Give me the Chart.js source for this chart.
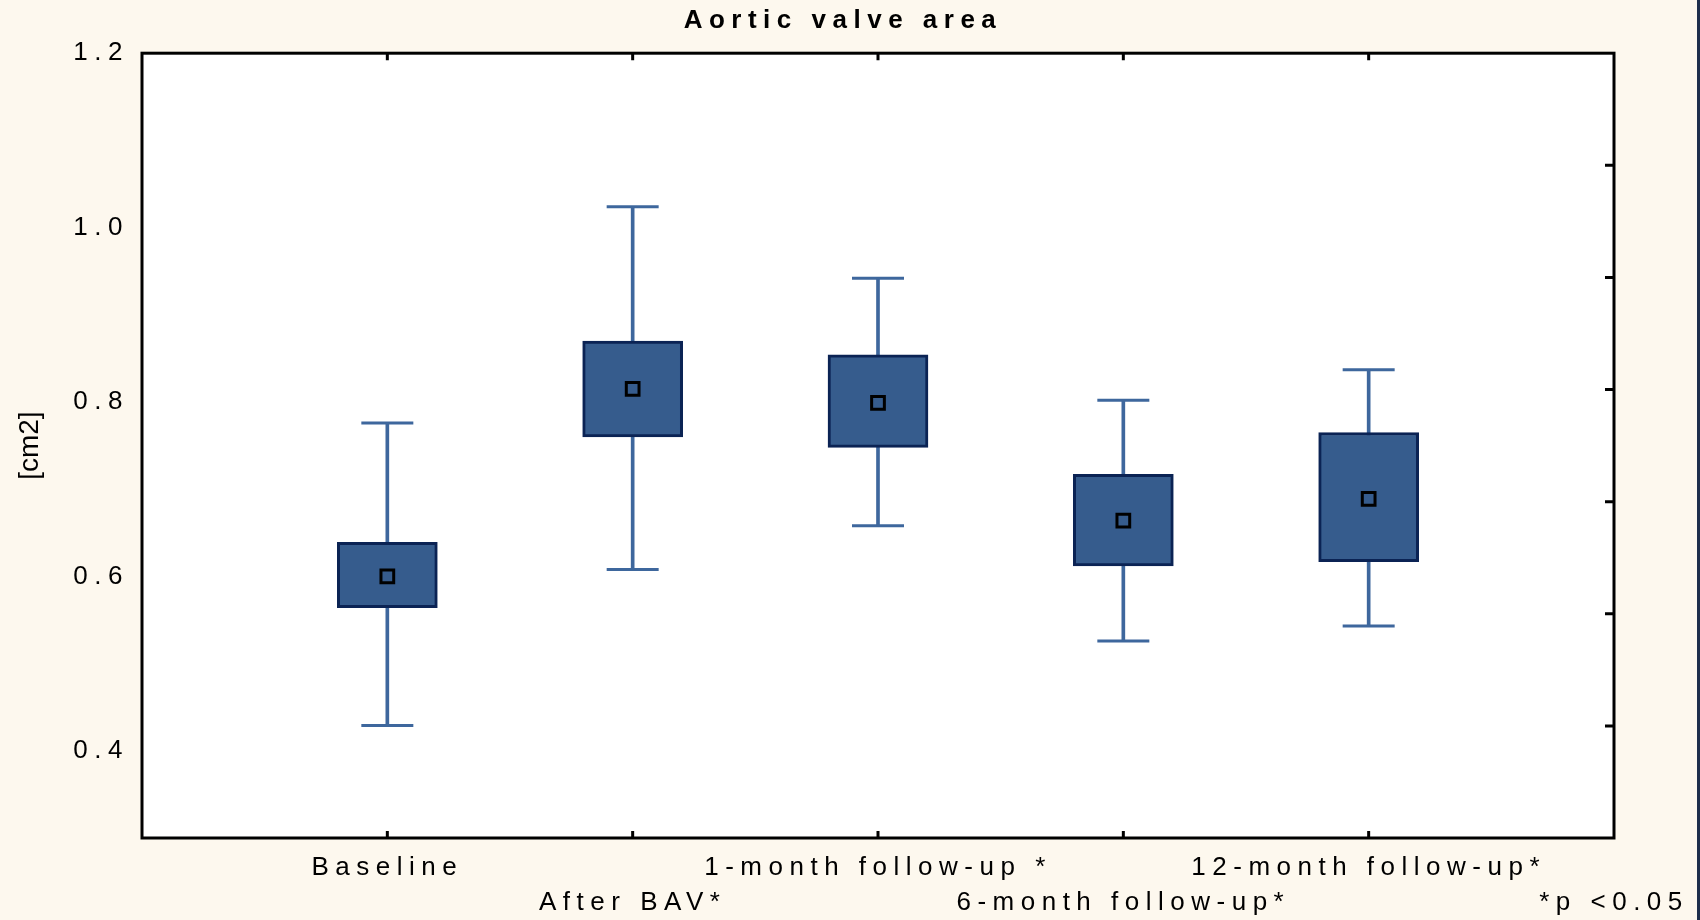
<!DOCTYPE html>
<html>
<head>
<meta charset="utf-8">
<script src="https://cdn.jsdelivr.net/npm/chart.js@4.4.1/dist/chart.umd.min.js"></script>
<style>
  html, body { margin: 0; padding: 0; background: #1d2e4c; }
  #wrap { width: 1697px; height: 920px; background: #fdf8ee; }
</style>
</head>
<body>
<div id="wrap"><canvas id="chart"></canvas></div>
<script>
// --- Data --- //
const categories = ['Baseline', 'After BAV*', '1-month follow-up *', '6-month follow-up*', '12-month follow-up*'];
const means = [0.600, 0.815, 0.799, 0.664, 0.689];
const boxLow = [0.564, 0.760, 0.748, 0.612, 0.617];
const boxHigh = [0.639, 0.870, 0.854, 0.717, 0.765];
const whiskerLow = [0.429, 0.608, 0.658, 0.526, 0.543];
const whiskerHigh = [0.776, 1.024, 0.942, 0.802, 0.837];
const yTicks = [0.4, 0.6, 0.8, 1.0, 1.2];
const footnote = '*p <0.05';

const boxFill = '#365c8d';
const boxEdge = '#0b2354';
const whiskerColor = '#3e679d';
const fontFamily = '"Liberation Sans", Arial, sans-serif';
const spacing = '6.5px'; // the original text is set very wide

const xs = categories.map((_, i) => i + 1);

// wide letter spacing for every label drawn by the chart
const spacingPlugin = {
    id: 'spacing',
    beforeUpdate(chart) { chart.ctx.letterSpacing = spacing; },
    beforeLayout(chart) { chart.ctx.letterSpacing = spacing; },
    beforeDraw(chart) { chart.ctx.letterSpacing = spacing; }
};

// white plot area, black frame and inward tick marks
const framePlugin = {
    id: 'frame',
    beforeDatasetsDraw(chart) {
        const { ctx, chartArea: a } = chart;
        ctx.save();
        ctx.fillStyle = '#ffffff';
        ctx.fillRect(a.left, a.top, a.right - a.left, a.bottom - a.top);
        ctx.restore();
    },
    afterDatasetsDraw(chart) {
        const { ctx, chartArea: a, scales } = chart;
        ctx.save();
        ctx.strokeStyle = '#000';
        ctx.lineWidth = 3;
        ctx.strokeRect(a.left, a.top, a.right - a.left, a.bottom - a.top);
        ctx.beginPath();
        xs.forEach(v => {
            const px = scales.x.getPixelForValue(v);
            ctx.moveTo(px, a.top); ctx.lineTo(px, a.top + 7);
            ctx.moveTo(px, a.bottom); ctx.lineTo(px, a.bottom - 7);
        });
        for (let i = 1; i < 7; i++) {
            const py = scales.y2.getPixelForValue(i);
            ctx.moveTo(a.right, py); ctx.lineTo(a.right - 9, py);
        }
        ctx.stroke();
        ctx.restore();
    }
};

const ctx = document.getElementById('chart').getContext('2d');
new Chart(ctx, {
    type: 'bar',
    data: {
        datasets: [
            {
                type: 'scatter',
                label: 'Mean',
                data: xs.map((x, i) => ({ x, y: means[i] })),
                pointStyle: 'rect',
                radius: 9,
                backgroundColor: boxFill,
                borderColor: '#000',
                borderWidth: 3,
                order: 0
            },
            {
                label: 'Box',
                data: xs.map((x, i) => ({ x, y: [boxLow[i], boxHigh[i]] })),
                backgroundColor: boxFill,
                borderColor: boxEdge,
                borderWidth: 3,
                borderSkipped: false,
                barThickness: 100,
                grouped: false,
                order: 1
            },
            {
                label: 'Whisker',
                data: xs.map((x, i) => ({ x, y: [whiskerLow[i], whiskerHigh[i]] })),
                backgroundColor: whiskerColor,
                barThickness: 3,
                grouped: false,
                order: 2
            },
            {
                type: 'scatter',
                label: 'Caps',
                data: xs.flatMap((x, i) => [{ x, y: whiskerLow[i] }, { x, y: whiskerHigh[i] }]),
                pointStyle: 'line',
                radius: 26,
                borderColor: whiskerColor,
                borderWidth: 3,
                order: 3
            }
        ]
    },
    options: {
        responsive: true,
        maintainAspectRatio: false,
        animation: false,
        layout: { padding: { left: 0, right: 11, top: 0, bottom: 0 } },
        plugins: {
            legend: { display: false },
            tooltip: { enabled: false },
            title: {
                display: true,
                text: 'Aortic valve area',
                color: '#000',
                font: { family: fontFamily, size: 26, weight: 'bold', lineHeight: 1.2 },
                padding: { top: 5, bottom: 17 }
            }
        },
        scales: {
            x: {
                type: 'linear',
                min: 0,
                max: 6,
                offset: false,
                grid: { display: false, drawTicks: false },
                border: { display: false },
                afterBuildTicks: (scale) => { scale.ticks = [0, 1, 2, 3, 4, 5, 6].map(v => ({ value: v })); },
                afterFit: (scale) => {
                    scale.height = 82;
                    // the footnote may hang over the right margin
                    scale.paddingLeft = 0;
                    scale.paddingRight = 0;
                },
                ticks: {
                    autoSkip: false,
                    maxRotation: 0,
                    minRotation: 0,
                    padding: 12,
                    color: '#000',
                    font: { family: fontFamily, size: 26, lineHeight: 1.35 },
                    callback: (value) => {
                        if (value === 6) return ['', footnote];
                        const label = categories[value - 1];
                        if (!label) return '';
                        return (value - 1) % 2 === 0 ? [label, ''] : ['', label];
                    }
                }
            },
            y: {
                min: 0.3,
                max: 1.2,
                grid: { display: false, drawTicks: false },
                border: { display: false },
                afterBuildTicks: (scale) => { scale.ticks = yTicks.map(v => ({ value: v })); },
                afterFit: (scale) => {
                    scale.width = 142;
                    // axis title is set tight, without the wide spacing
                    if (!scale._tightTitle) {
                        const drawTitle = scale.drawTitle.bind(scale);
                        scale.drawTitle = (...args) => {
                            const prev = scale.ctx.letterSpacing;
                            scale.ctx.letterSpacing = '0px';
                            drawTitle(...args);
                            scale.ctx.letterSpacing = prev;
                        };
                        scale._tightTitle = true;
                    }
                },
                ticks: {
                    padding: 13,
                    color: '#000',
                    font: { family: fontFamily, size: 26 },
                    callback: (value) => value.toFixed(1)
                },
                title: {
                    display: true,
                    text: '[cm2]',
                    color: '#000',
                    font: { family: fontFamily, size: 28 },
                    padding: { top: 13, bottom: 0 }
                }
            },
            y2: {
                position: 'right',
                min: 0,
                max: 7,
                grid: { display: false, drawTicks: false },
                border: { display: false },
                ticks: { display: false },
                afterFit: (scale) => { scale.width = 72; }
            }
        }
    },
    plugins: [spacingPlugin, framePlugin]
});
</script>
</body>
</html>
